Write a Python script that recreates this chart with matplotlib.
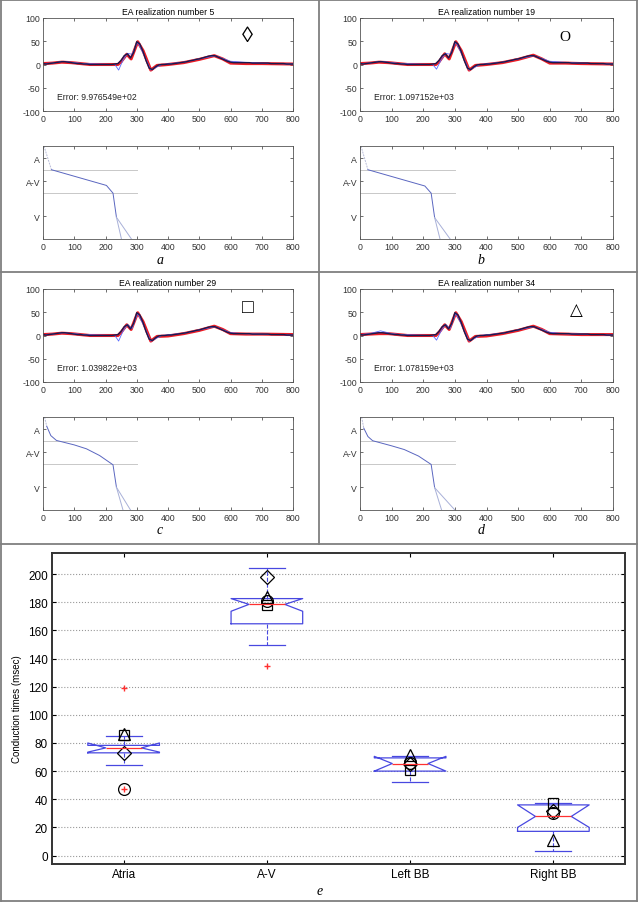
import matplotlib
matplotlib.use('Agg')
import matplotlib.pyplot as plt
from matplotlib.lines import Line2D

plt.rcParams['font.family'] = ['Liberation Sans', 'DejaVu Sans']
plt.rcParams['axes.unicode_minus'] = False

# --- measured ECG (same recording in the four panels) ---
t_ecg = list(range(0, 801, 10))
ecg_measured = [2, 1, 2, 3, 4, 5, 6, 6, 5, 4,
                3, 2, 2, 1, 1, 0, 0, 0, 0, 0,
                0, 0, 0, 1, 2, 9, 19, 23, 14, 26,
                49, 44, 28, 8, -8, -11, -5, -1, 0, 0,
                1, 1, 2, 3, 4, 5, 6, 8, 9, 11,
                12, 14, 16, 18, 19, 19, 16, 13, 10, 7,
                5, 4, 4, 4, 4, 4, 4, 3, 3, 3,
                3, 3, 3, 2, 2, 2, 2, 2, 1, 1, 1]

# --- model fit (red) for each realization ---
fit_t = [0, 30, 60, 90, 120, 150, 240, 250, 268, 282, 303, 320, 345, 365, 400,
         450, 500, 548, 575, 600, 650, 700, 800]
fit_a = [2, 3, 5, 4, 2, 0, 0, 6, 22, 12, 49, 30, -12, -2, 0, 4, 11, 19, 12, 3, 2, 2, 1]
fit_b = [2, 3, 5, 4, 2, 0, 0, 6, 23, 12, 49, 30, -12, -2, 0, 4, 11, 20, 12, 3, 3, 2, 1]
fit_c = [2, 3, 5, 4, 2, 0, 0, 7, 23, 13, 49, 30, -12, -2, -1, 4, 11, 20, 13, 4, 3, 3, 2]
fit_d = [2, 3, 4, 4, 2, 0, 0, 7, 23, 13, 49, 30, -12, -2, -1, 4, 11, 20, 13, 4, 3, 2, 2]

# --- simulated signal (thin blue) ---
sim_t = [0, 30, 65, 100, 130, 230, 242, 255, 270, 285, 303, 325, 345, 380, 450,
         500, 550, 600, 640, 700, 800]
sim_a = [2, 3, 7, 4, 2, 0, -12, 8, 24, 22, 48, 18, -12, 0, 5, 12, 19, 7, 5, 3, 1]
sim_b = [2, 3, 7, 4, 2, 0, -10, 8, 24, 22, 48, 18, -12, 0, 5, 12, 19, 7, 5, 3, 1]
sim_c = [2, 3, 6, 4, 2, 0, -12, 8, 24, 15, 48, 18, -12, 0, 5, 12, 19, 6, 4, 3, 1]
sim_d = [2, 4, 10, 4, 2, 0, -10, 8, 24, 15, 48, 18, -12, 0, 5, 12, 19, 7, 4, 3, 1]

titles = ['EA realization number 5', 'EA realization number 19',
          'EA realization number 29', 'EA realization number 34']
errors = ['Error: 9.976549e+02', 'Error: 1.097152e+03',
          'Error: 1.039822e+03', 'Error: 1.078159e+03']
symbols = ['\u25ca', 'O', '\u25a1', '\u25b3']
panel_letters = ['a', 'b', 'c', 'd']

# --- conduction diagrams (depth 0..100) ---
cond_a_x = [3, 27, 203, 224, 235]
cond_a_y = [100, 74.5, 57.6, 49.3, 23.4]
cond_b_x = [3, 25, 205, 225, 236]
cond_b_y = [100, 74.5, 57, 49.3, 23]
cond_c_x = [5, 12, 25, 43, 100, 139, 181, 224, 235]
cond_c_y = [100, 90, 80, 74.8, 70, 65.8, 58.6, 48.6, 24.5]
cond_d_x = [5, 12, 25, 40, 100, 140, 185, 225, 236]
cond_d_y = [100, 88, 79, 74.5, 69, 65, 58, 49, 24]
cond_ends = [[251, 283], [253, 285], [256, 280], [258, 300]]
zone_bounds = [74.5, 49.3]
zone_ticks = [24.6, 62, 87]
zone_labels = ['V', 'A-V', 'A']

# --- box plot of conduction times ---
categories = ['Atria', 'A-V', 'Left BB', 'Right BB']
box_q1 = [73, 164.7, 60, 17.2]
box_med = [76.5, 178.5, 65.4, 27.8]
box_q3 = [78.3, 182.6, 69.4, 36]
box_cilo = [73.5, 173.6, 60, 20]
box_cihi = [80, 182.6, 70.5, 36]
whisk_lo = [64.5, 149.4, 52.2, 3.5]
whisk_hi = [84.7, 204.2, 71.1, 37.7]
outliers = [[119.3, 47.5], [134.8], [], []]

real_diamond = [73, 197.6, 65, 32]
real_circle = [47.5, 181.2, 65.9, 30]
real_square = [86, 178.3, 60.5, 37.7]
real_triangle = [86.6, 184, 71.8, 11.3]

W, H = 642, 904
fig = plt.figure(figsize=(6.42, 9.04), dpi=100)


def px_rect(l, t, r, b):
    return [l / W, 1 - b / H, (r - l) / W, (b - t) / H]


def matlab_axes(ax, size=6.3):
    ax.tick_params(direction='in', top=True, right=True, length=2.5,
                   width=0.5, labelsize=size, pad=2, colors='#333333')
    for s in ax.spines.values():
        s.set_linewidth(0.6)
        s.set_color('#555555')


fits = [fit_a, fit_b, fit_c, fit_d]
sims = [sim_a, sim_b, sim_c, sim_d]
conds = [(cond_a_x, cond_a_y), (cond_b_x, cond_b_y),
         (cond_c_x, cond_c_y), (cond_d_x, cond_d_y)]
sym_pos = [(655, 60), (648, 60), (656, 60), (683, 55)]
sym_size = [16, 11, 14, 12]

for i in range(4):
    row, col = divmod(i, 2)
    left, right = (43, 293) if col == 0 else (360, 613)
    dy = row * 271

    # signal
    ax = fig.add_axes(px_rect(left, 19 + dy, right, 112 + dy))
    ax.plot(fit_t, fits[i], color='#ee1c24', lw=2.2)
    ax.plot(sim_t, sims[i], color='#5a6cff', lw=0.6)
    ax.plot(t_ecg, ecg_measured, color='#1a1a50', lw=1.0)
    ax.set_xlim(0, 800)
    ax.set_ylim(-100, 100)
    ax.set_xticks(range(0, 801, 100))
    ax.set_yticks([-100, -50, 0, 50, 100])
    ax.set_title(titles[i], fontsize=6.2, pad=3)
    ax.text(45, -68, errors[i], fontsize=6.2, va='center', color='#222222')
    ax.text(sym_pos[i][0], sym_pos[i][1], symbols[i], fontsize=sym_size[i],
            ha='center', va='center', family=['Liberation Serif', 'DejaVu Sans'])
    matlab_axes(ax)

    # conduction diagram
    ax2 = fig.add_axes(px_rect(left, 147 + dy, right, 240 + dy))
    cx, cy = conds[i]
    for yb in zone_bounds:
        ax2.plot([0, 300], [yb, yb], color='#c8c8c8', lw=0.7)
    ax2.plot(cx[:2], cy[:2], color='#b8bcd8', lw=0.7, ls=(0, (2, 1)))
    ax2.plot(cx[1:], cy[1:], color='#5a66c0', lw=0.7)
    for xe in cond_ends[i]:
        ax2.plot([cx[-1], xe], [cy[-1], 0], color='#a8b0d8', lw=0.7)
    ax2.set_xlim(0, 800)
    ax2.set_ylim(0, 100)
    ax2.set_xticks(range(0, 801, 100))
    ax2.set_yticks(zone_ticks)
    ax2.set_yticklabels(zone_labels)
    matlab_axes(ax2)

    fig.text(160 / W if col == 0 else 481 / W, 1 - (260 + dy) / H, panel_letters[i],
             fontsize=10, style='italic', family='Liberation Serif',
             ha='center', va='center')

# box plot
axb = fig.add_axes(px_rect(52, 554, 625, 865))
stats = []
for k in range(4):
    stats.append(dict(med=box_med[k], q1=box_q1[k], q3=box_q3[k],
                      cilo=box_cilo[k], cihi=box_cihi[k],
                      whislo=whisk_lo[k], whishi=whisk_hi[k],
                      fliers=outliers[k], label=categories[k]))
blue = '#4848e0'
axb.bxp(stats, positions=[1, 2, 3, 4], widths=0.5, shownotches=True,
        boxprops=dict(color=blue, lw=0.9),
        whiskerprops=dict(color=blue, ls='--', lw=0.8),
        capprops=dict(color=blue, lw=0.9),
        medianprops=dict(color='#ff3030', lw=0.9),
        flierprops=dict(marker='+', markeredgecolor='#ff3030', markersize=5,
                        linestyle='none'))
pos = [1, 2, 3, 4]
mk = dict(mfc='none', mec='black', mew=0.9, ls='none')
axb.plot(pos, real_diamond, 'D', ms=7.5, **mk)
axb.plot(pos, real_circle, 'o', ms=8.5, **mk)
axb.plot(pos, real_square, 's', ms=7.5, **mk)
axb.plot(pos, real_triangle, '^', ms=8.5, **mk)
axb.set_xlim(0.5, 4.5)
axb.set_ylim(-6, 215)
axb.set_yticks(range(0, 201, 20))
axb.set_xticks(pos)
axb.set_xticklabels(categories)
axb.yaxis.grid(True, ls=':', color='#999999', lw=0.8)
axb.set_axisbelow(True)
axb.tick_params(direction='in', top=True, right=True, length=3, width=0.8,
                labelsize=8.5, pad=3)
for s in axb.spines.values():
    s.set_linewidth(1.4)
    s.set_color('#333333')
axb.set_ylabel('Conduction times (msec)', fontsize=7, labelpad=4)
fig.text(320 / W, 1 - 892 / H, 'e', fontsize=10, style='italic',
         family='Liberation Serif', ha='center', va='center')

# cell borders
border = dict(color='#7f7f7f', lw=1.3, transform=fig.transFigure)
for (x0, y0, x1, y1) in [(1, 1, 637, 1), (1, 902, 637, 902), (1, 1, 1, 902),
                         (637, 1, 637, 902), (1, 273, 637, 273),
                         (1, 545, 637, 545), (319, 1, 319, 545)]:
    fig.add_artist(Line2D([x0 / W, x1 / W], [1 - y0 / H, 1 - y1 / H], **border))

fig.savefig('out.png', dpi=100)
